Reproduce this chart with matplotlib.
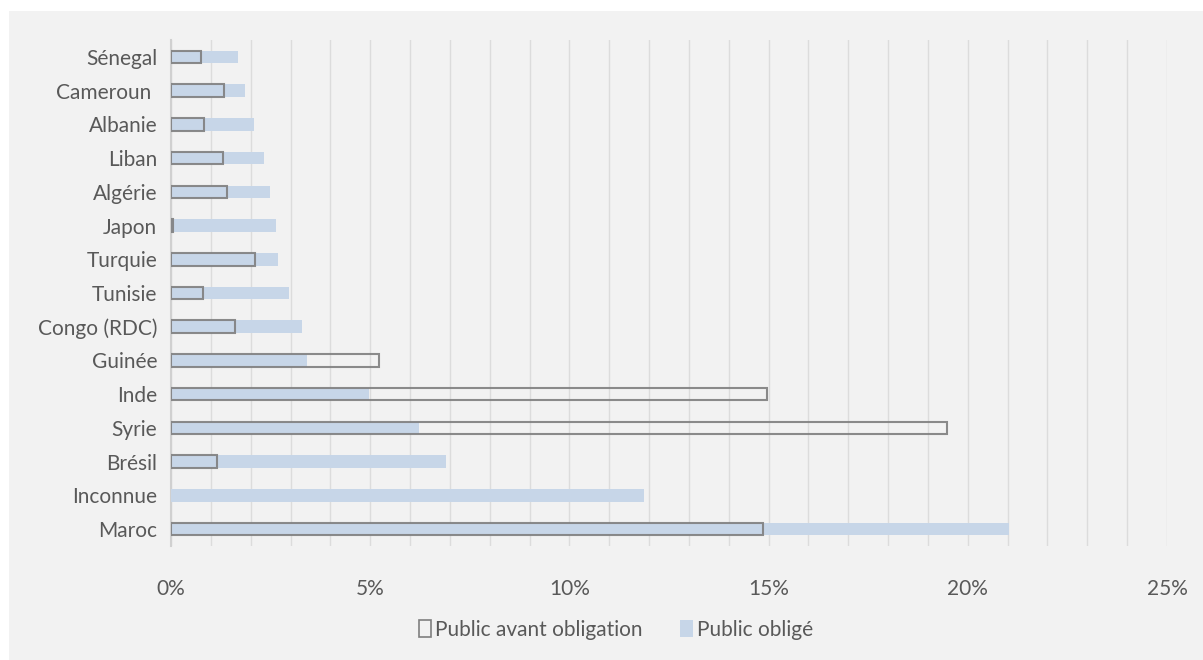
import matplotlib.pyplot as plt
from matplotlib.patches import Patch, Rectangle
from matplotlib.ticker import MultipleLocator, FuncFormatter
import numpy as np

# Colors
BG = '#F2F2F2'
BLUE = '#C7D6E8'
EDGE = '#7F7F7F'
TEXT = '#595959'
GRID = '#DCDCDC'

pays = ['Maroc', 'Inconnue', 'Brésil', 'Syrie', 'Inde', 'Guinée', 'Congo (RDC)',
        'Tunisie', 'Turquie', 'Japon', 'Algérie', 'Liban', 'Albanie', 'Cameroun ', 'Sénegal']
# parts en %
public_oblige = [21.03, 11.86, 6.91, 6.23, 4.98, 3.42, 3.29,
                 2.96, 2.69, 2.64, 2.49, 2.34, 2.09, 1.86, 1.68]
public_avant = [14.85, 0.0, 1.16, 19.47, 14.95, 5.23, 1.61,
                0.80, 2.11, 0.05, 1.41, 1.31, 0.83, 1.33, 0.75]

plt.rcParams['font.family'] = ['Lato', 'DejaVu Sans']

fig = plt.figure(figsize=(12.03, 6.60), dpi=100)
fig.patch.set_facecolor('white')
fig.patches.append(Rectangle((9 / 1203, 0.0), 1 - 9 / 1203, 1 - 11 / 660,
                             transform=fig.transFigure, facecolor=BG,
                             edgecolor='none', zorder=-10))

ax = fig.add_axes([171 / 1203, 1 - 546 / 660, (1167 - 171) / 1203, (546 - 40) / 660])
ax.set_facecolor(BG)

y = np.arange(len(pays))
h = 0.37
ax.barh(y, public_oblige, height=h, color=BLUE, zorder=3)
# pas de contour pour les valeurs nulles
lw = [1.5 if v > 0 else 0 for v in public_avant]
ax.barh(y, public_avant, height=h, facecolor='none', edgecolor=EDGE,
        linewidth=lw, alpha=0.9, zorder=4)

ax.set_xlim(0, 25)
ax.set_ylim(-0.5, len(pays) - 0.5)
ax.set_yticks(y)
ax.set_yticklabels(pays)
ax.xaxis.set_major_locator(MultipleLocator(5))
ax.xaxis.set_minor_locator(MultipleLocator(1))
ax.xaxis.set_major_formatter(FuncFormatter(lambda v, p: f'{v:.0f}%'))
ax.grid(True, axis='x', which='both', color=GRID, linewidth=1.0, zorder=0)
ax.set_axisbelow(True)

for s in ['top', 'right', 'bottom']:
    ax.spines[s].set_visible(False)
ax.spines['left'].set_color('#D0D0D0')
ax.spines['left'].set_linewidth(1.5)

ax.tick_params(axis='both', which='both', length=0, labelsize=15, colors=TEXT)
ax.tick_params(axis='x', pad=24)
ax.tick_params(axis='y', pad=10)

handles = [Patch(facecolor='none', edgecolor=EDGE, linewidth=1.2, label='Public avant obligation'),
           Patch(facecolor=BLUE, edgecolor='none', label='Public oblig\u00e9')]
leg = fig.legend(handles=handles, loc='center', bbox_to_anchor=(616 / 1203, 1 - 630 / 660),
                 ncol=2, frameon=False, fontsize=15, handlelength=0.6, handleheight=0.9,
                 handletextpad=0.2, columnspacing=1.8)
for t in leg.get_texts():
    t.set_color(TEXT)

fig.savefig('out.png', dpi=100, facecolor=fig.get_facecolor())
